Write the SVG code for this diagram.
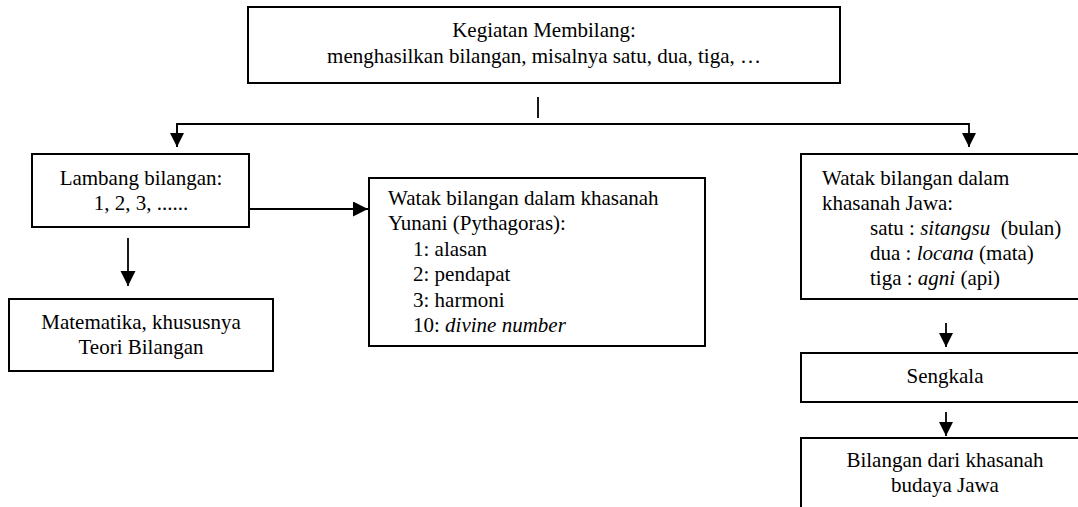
<svg xmlns="http://www.w3.org/2000/svg" width="1078" height="507" viewBox="0 0 1078 507">
<style>
  .box { fill: #ffffff; stroke: #000000; stroke-width: 2; }
  .line { fill: none; stroke: #000000; stroke-width: 1.8; }
  text { font-family: "Liberation Serif", "Times New Roman", Tinos, serif; font-size: 21px; fill: #000000; }
  .c { text-anchor: middle; }
  .i { font-style: italic; }
</style>
<defs>
  <marker id="arrow" markerUnits="userSpaceOnUse" markerWidth="16" markerHeight="16" refX="15" refY="7.5" orient="auto">
    <path d="M0,0 L15,7.5 L0,15 Z" fill="#000000"/>
  </marker>
  <marker id="arrowS" markerUnits="userSpaceOnUse" markerWidth="15" markerHeight="15" refX="14" refY="7" orient="auto">
    <path d="M0,0 L14,7 L0,14 Z" fill="#000000"/>
  </marker>
</defs>
<rect width="1078" height="507" fill="#ffffff"/>

<g id="connectors">
  <line class="line" x1="538" y1="97" x2="538" y2="118"/>
  <polyline class="line" points="177,147 177,124 969,124 969,147" marker-end="url(#arrowS)"/>
  <line class="line" x1="177" y1="124" x2="177" y2="147" marker-end="url(#arrowS)"/>
  <line class="line" x1="249" y1="209" x2="368" y2="209" marker-end="url(#arrow)"/>
  <line class="line" x1="128" y1="238" x2="128" y2="286" marker-end="url(#arrow)"/>
  <line class="line" x1="946" y1="323" x2="946" y2="347" marker-end="url(#arrowS)"/>
  <line class="line" x1="946" y1="412" x2="946" y2="436" marker-end="url(#arrowS)"/>
</g>

<g id="kegiatan">
  <rect class="box" x="248" y="7" width="592" height="76"/>
  <text class="c" x="544" y="37">Kegiatan Membilang:</text>
  <text class="c" x="544" y="63">menghasilkan bilangan, misalnya satu, dua, tiga, …</text>
</g>

<g id="lambang">
  <rect class="box" x="32" y="154" width="217" height="73"/>
  <text class="c" x="141" y="185">Lambang bilangan:</text>
  <text class="c" x="141" y="210">1, 2, 3, ......</text>
</g>

<g id="matematika">
  <rect class="box" x="9" y="299" width="264" height="72"/>
  <text class="c" x="141" y="329">Matematika, khususnya</text>
  <text class="c" x="141" y="354">Teori Bilangan</text>
</g>

<g id="yunani">
  <rect class="box" x="369" y="178" width="336" height="168"/>
  <text x="388" y="205">Watak bilangan dalam khasanah</text>
  <text x="388" y="230">Yunani (Pythagoras):</text>
  <text x="413" y="256">1: alasan</text>
  <text x="413" y="281">2: pendapat</text>
  <text x="413" y="307">3: harmoni</text>
  <text x="413" y="332">10: <tspan class="i">divine number</tspan></text>
</g>

<g id="jawa">
  <rect class="box" x="801" y="154" width="290" height="145"/>
  <text x="822" y="185">Watak bilangan dalam</text>
  <text x="822" y="210">khasanah Jawa:</text>
  <text x="870" y="235">satu : <tspan class="i">sitangsu</tspan>&#160; (bulan)</text>
  <text x="870" y="260">dua : <tspan class="i">locana</tspan> (mata)</text>
  <text x="870" y="285">tiga : <tspan class="i">agni</tspan> (api)</text>
</g>

<g id="sengkala">
  <rect class="box" x="801" y="353" width="290" height="49"/>
  <text class="c" x="945" y="383">Sengkala</text>
</g>

<g id="bilangan-jawa">
  <rect class="box" x="801" y="438" width="290" height="90"/>
  <text class="c" x="945" y="467">Bilangan dari khasanah</text>
  <text class="c" x="945" y="492">budaya Jawa</text>
</g>
</svg>
